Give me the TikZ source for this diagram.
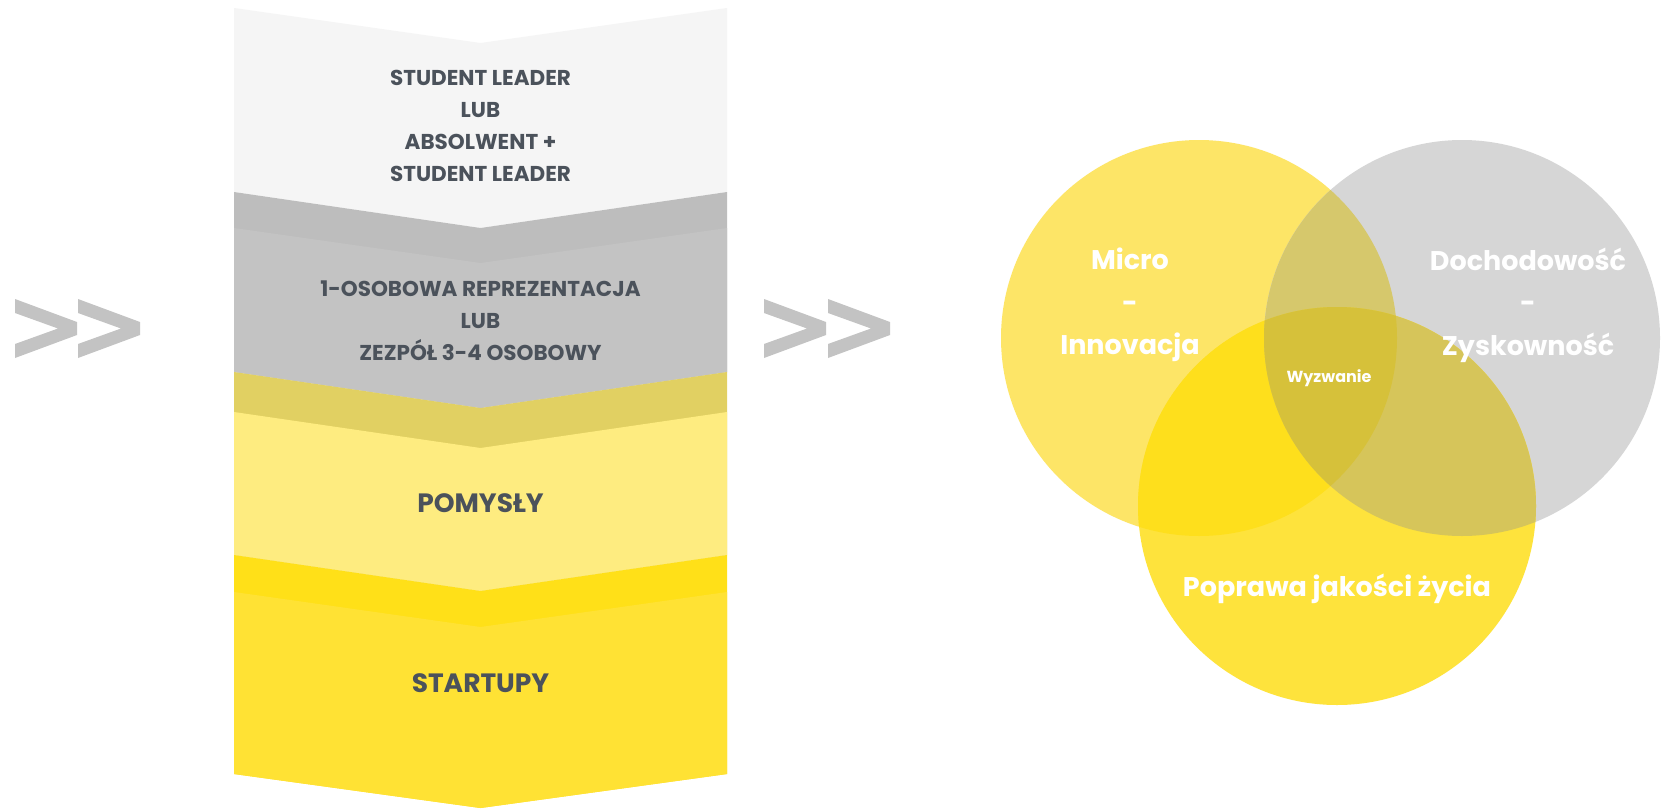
\documentclass[tikz,border=0pt]{standalone}
\usepackage{fontspec}
\setmainfont{Poppins}
\definecolor{txt}{HTML}{4B525B}
\definecolor{bandA}{HTML}{F5F5F5}
\definecolor{bandBs}{HTML}{BDBDBD}
\definecolor{bandB}{HTML}{C3C3C3}
\definecolor{bandCs}{HTML}{E1D062}
\definecolor{bandC}{HTML}{FEEC80}
\definecolor{bandDs}{HTML}{FFE018}
\definecolor{bandD}{HTML}{FFE234}
\definecolor{chev}{HTML}{C3C3C3}
\definecolor{cL}{HTML}{FDE567}
\definecolor{cG}{HTML}{D6D6D6}
\definecolor{cB}{HTML}{FEE33C}
\definecolor{cLG}{HTML}{D6C86C}
\definecolor{cLB}{HTML}{FEDF1C}
\definecolor{cGB}{HTML}{D6C55A}
\definecolor{cLGB}{HTML}{D6C13A}
\begin{document}
\begin{tikzpicture}[x=1pt,y=-1pt,
  lbl/.style={font=\bfseries\fontsize{21.5}{32}\selectfont, text=txt, align=center, inner sep=0pt},
  big/.style={font=\bfseries\fontsize{26.5}{32}\selectfont, text=txt, align=center, inner sep=0pt},
  vlbl/.style={font=\bfseries\fontsize{27}{42.5}\selectfont, text=white, align=center, inner sep=0pt},
  chevshape/.style={fill=chev}]
\fill[white] (0,0) rectangle (1670,809);
\useasboundingbox (0,0) rectangle (1670,809);

% chevrons >>
\foreach \cx in {15,78,764,828}{
  \fill[chevshape,shift={(\cx,0)}] (0,299)--(62,322)--(62,335)--(0,358)--(0,344)--(43,328.5)--(0,313)--cycle;
}

% bands
\fill[bandA] (234,8)--(480.5,43)--(727,8)--(727,192)--(480.5,228)--(234,192)--cycle;
\fill[bandBs] (234,192)--(480.5,228)--(727,192)--(727,372)--(480.5,408)--(234,372)--cycle;
\fill[bandB] (234,228)--(480.5,263)--(727,228)--(727,372)--(480.5,408)--(234,372)--cycle;
\fill[bandCs] (234,372)--(480.5,408)--(727,372)--(727,555)--(480.5,591)--(234,555)--cycle;
\fill[bandC] (234,412)--(480.5,448)--(727,412)--(727,555)--(480.5,591)--(234,555)--cycle;
\fill[bandDs] (234,555)--(480.5,591)--(727,555)--(727,774)--(480.5,808)--(234,774)--cycle;
\fill[bandD] (234,592)--(480.5,627)--(727,592)--(727,774)--(480.5,808)--(234,774)--cycle;

\node[lbl] (t1) at (480.5,126) {STUDENT LEADER\\LUB\\ABSOLWENT +\\STUDENT LEADER};
\node[lbl] (t2) at (480.5,320.5) {1-OSOBOWA REPREZENTACJA\\LUB\\ZEZPÓŁ 3-4 OSOBOWY};
\node[big] (t3) at (480.5,503) {POMYSŁY};
\node[big] (t4) at (480.5,683) {STARTUPY};

% venn
\fill[cL] (1199,338) circle[radius=198];
\fill[cG] (1462,338) circle[radius=198];
\fill[cB] (1337,506) circle[radius=199];
\begin{scope}
  \clip (1199,338) circle[radius=198];
  \fill[cLG] (1462,338) circle[radius=198];
  \fill[cLB] (1337,506) circle[radius=199];
\end{scope}
\begin{scope}
  \clip (1462,338) circle[radius=198];
  \fill[cGB] (1337,506) circle[radius=199];
\end{scope}
\begin{scope}
  \clip (1199,338) circle[radius=198];
  \clip (1462,338) circle[radius=198];
  \fill[cLGB] (1337,506) circle[radius=199];
\end{scope}

\node[vlbl] (v1) at (1130,305) {Micro\\-\\Innovacja};
\node[vlbl] (v2) at (1528,305) {Dochodowość\\-\\Zyskowność};
\node[font=\bfseries\fontsize{16}{20}\selectfont, text=white, inner sep=0pt] (v3) at (1329,378) {Wyzwanie};
\node[font=\bfseries\fontsize{27}{34}\selectfont, text=white, inner sep=0pt] (v4) at (1337,589) {Poprawa jakości życia};
\end{tikzpicture}
\end{document}
